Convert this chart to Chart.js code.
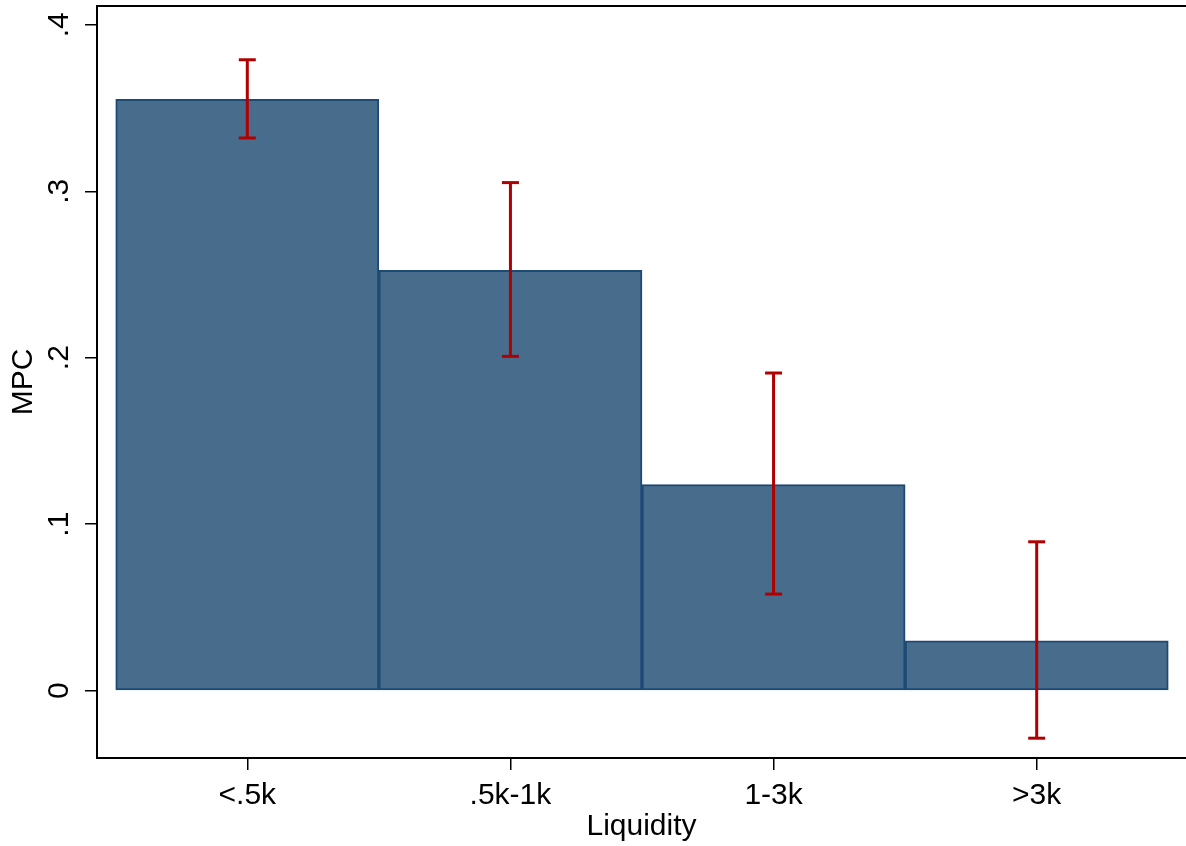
<!DOCTYPE html>
<html lang="en">
<head>
  <meta charset="UTF-8">
  <title>MPC by Liquidity</title>
  <style>
    body, html {
      margin: 0;
      padding: 0;
      background-color: #ffffff;
      overflow: hidden;
    }

    #mpcChart {
      display: block;
    }
  </style>
</head>
<body>
  <canvas id="mpcChart" width="1186" height="846"></canvas>

  <script src="https://cdn.jsdelivr.net/npm/chart.js"></script>
  <script>
    // Data
    const categories = ['<.5k', '.5k-1k', '1-3k', '>3k'];
    const mpc = [0.3553, 0.2525, 0.1237, 0.0299];
    const ciHigh = [0.3790, 0.3052, 0.1908, 0.0894];
    const ciLow = [0.3320, 0.2008, 0.0580, -0.0286];
    const yTicks = [0, 0.1, 0.2, 0.3, 0.4];
    const yTickLabels = ['0', '.1', '.2', '.3', '.4'];

    const barColor = '#486c8c';
    const barEdge = '#1d4a73';
    const ciColor = '#b00000';

    Chart.defaults.font.family = '"Liberation Sans", Arial, sans-serif';
    Chart.defaults.font.size = 30;
    Chart.defaults.color = '#000';

    // whiskers: lo -> hi for each bar, null breaks the line between bars
    const whiskers = [];
    categories.forEach((c, i) => {
      whiskers.push({ x: i + 1, y: ciLow[i] });
      whiskers.push({ x: i + 1, y: ciHigh[i] });
      whiskers.push({ x: i + 1, y: null });
    });

    // top frame line of the plot region
    const frameTop = {
      id: 'frameTop',
      afterDraw(chart) {
        const { ctx, chartArea } = chart;
        ctx.save();
        ctx.strokeStyle = '#000';
        ctx.lineWidth = 2;
        ctx.beginPath();
        ctx.moveTo(chartArea.left - 1, chartArea.top);
        ctx.lineTo(chart.width, chartArea.top);
        ctx.stroke();
        ctx.restore();
      }
    };

    const ctx = document.getElementById('mpcChart').getContext('2d');
    new Chart(ctx, {
      type: 'bar',
      data: {
        datasets: [
          {
            type: 'line',
            label: 'CI',
            data: whiskers,
            borderColor: ciColor,
            borderWidth: 3,
            spanGaps: false,
            pointStyle: 'line',
            pointRadius: 8.5,
            pointBorderWidth: 3,
            pointBorderColor: ciColor,
            pointBackgroundColor: ciColor,
            order: 1
          },
          {
            label: 'MPC',
            data: mpc.map((v, i) => ({ x: i + 1, y: v })),
            backgroundColor: barColor,
            borderColor: barEdge,
            borderWidth: 2,
            borderSkipped: false,
            barPercentage: 1,
            categoryPercentage: 1,
            order: 2
          }
        ]
      },
      options: {
        responsive: false,
        animation: false,
        devicePixelRatio: 1,
        layout: {
          autoPadding: false,
          padding: { top: 6, right: 0, bottom: 0, left: 0 }
        },
        plugins: {
          legend: { display: false },
          tooltip: { enabled: false }
        },
        scales: {
          x: {
            type: 'linear',
            offset: false,
            min: 0.4288,
            max: 4.5674,
            grid: {
              offset: false,
              drawOnChartArea: false,
              drawTicks: true,
              tickLength: 12,
              color: '#000',
              lineWidth: 1.5
            },
            border: { color: '#000', width: 2 },
            afterBuildTicks: (scale) => {
              scale.ticks = categories.map((c, i) => ({ value: i + 1 }));
            },
            afterFit: (scale) => {
              scale.height = 88;
              scale.paddingLeft = 0;
              scale.paddingRight = 0;
            },
            ticks: {
              padding: 8,
              maxRotation: 0,
              autoSkip: false,
              callback: (value, index) => categories[index]
            },
            title: {
              display: true,
              text: 'Liquidity',
              padding: { top: 0, bottom: 1 }
            }
          },
          y: {
            min: -0.0405,
            max: 0.4113,
            grid: {
              drawOnChartArea: false,
              drawTicks: true,
              tickLength: 12,
              color: '#000',
              lineWidth: 1.5
            },
            border: { color: '#000', width: 2 },
            afterBuildTicks: (scale) => {
              scale.ticks = yTicks.map(v => ({ value: v }));
            },
            afterFit: (scale) => {
              scale.width = 97;
              scale.paddingTop = 0;
              scale.paddingBottom = 0;
            },
            ticks: {
              minRotation: 90,
              maxRotation: 90,
              crossAlign: 'center',
              padding: 13,
              callback: (value, index) => yTickLabels[index]
            },
            title: {
              display: true,
              text: 'MPC',
              padding: { top: 6, bottom: 0 }
            }
          }
        }
      },
      plugins: [frameTop]
    });
  </script>
</body>
</html>
